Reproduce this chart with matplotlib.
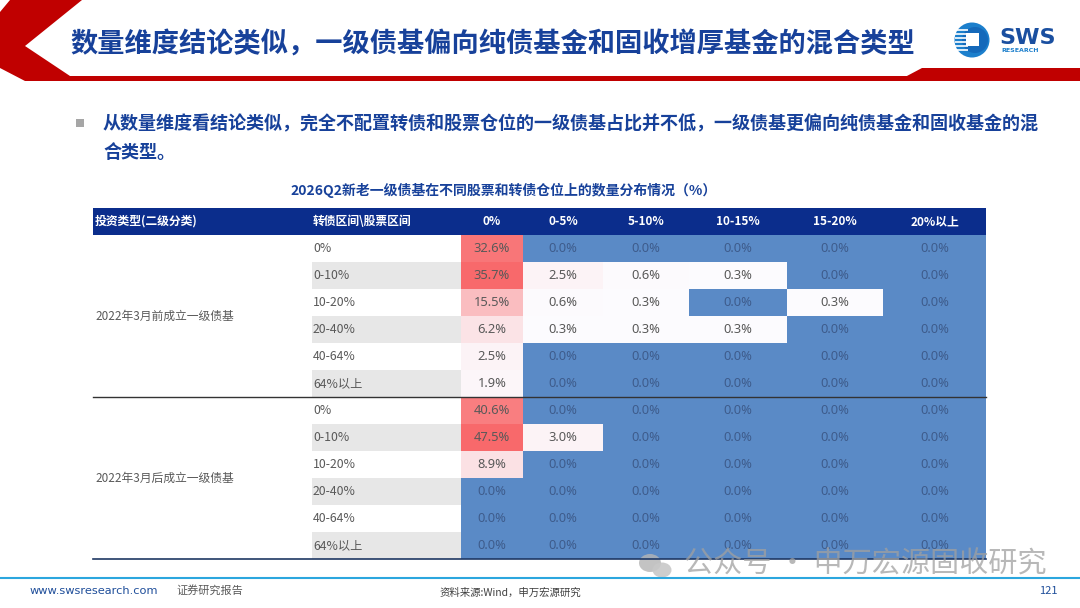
import matplotlib
matplotlib.use("Agg")
import matplotlib.pyplot as plt
import numpy as np
from matplotlib.colors import LinearSegmentedColormap, TwoSlopeNorm
from matplotlib.patches import Rectangle, Polygon, Circle, Ellipse

plt.rcParams['font.family'] = ['Noto Sans CJK SC', 'DejaVu Sans']

# ---------------- data ----------------
title = "数量维度结论类似，一级债基偏向纯债基金和固收增厚基金的混合类型"
bullet_line1 = "从数量维度看结论类似，完全不配置转债和股票仓位的一级债基占比并不低，一级债基更偏向纯债基金和固收基金的混"
bullet_line2 = "合类型。"
table_title = "2026Q2新老一级债基在不同股票和转债仓位上的数量分布情况（%）"
header_col1 = "投资类型(二级分类)"
header_col2 = "转债区间\\股票区间"
stock_bins = ['0%', '0-5%', '5-10%', '10-15%', '15-20%', '20%以上']
cb_bins = ['0%', '0-10%', '10-20%', '20-40%', '40-64%', '64%以上']
groups = ['2022年3月前成立一级债基', '2022年3月后成立一级债基']
old_funds = [
    [32.6, 0.0, 0.0, 0.0, 0.0, 0.0],
    [35.7, 2.5, 0.6, 0.3, 0.0, 0.0],
    [15.5, 0.6, 0.3, 0.0, 0.3, 0.0],
    [6.2, 0.3, 0.3, 0.3, 0.0, 0.0],
    [2.5, 0.0, 0.0, 0.0, 0.0, 0.0],
    [1.9, 0.0, 0.0, 0.0, 0.0, 0.0],
]
new_funds = [
    [40.6, 0.0, 0.0, 0.0, 0.0, 0.0],
    [47.5, 3.0, 0.0, 0.0, 0.0, 0.0],
    [8.9, 0.0, 0.0, 0.0, 0.0, 0.0],
    [0.0, 0.0, 0.0, 0.0, 0.0, 0.0],
    [0.0, 0.0, 0.0, 0.0, 0.0, 0.0],
    [0.0, 0.0, 0.0, 0.0, 0.0, 0.0],
]
footer_url = "www.swsresearch.com"
footer_tag = "证券研究报告"
footer_src = "资料来源:Wind，申万宏源研究"
page_no = "121"
watermark = "公众号 · 申万宏源固收研究"

# ---------------- layout ----------------
W, H = 1080, 608
RED = '#C00000'
NAVY = '#17419A'
HEAD = '#0B2D8C'
GREY_TXT = '#595959'
BLUE_CELL = '#5A8AC6'
NUM_FONT = ['Noto Sans', 'DejaVu Sans']

col_edges = [93, 312, 461, 523, 603, 689, 787, 883, 986]
head_top, head_bot = 208, 235
row_h = 27

fig = plt.figure(figsize=(W / 100, H / 100), dpi=100)
ax = fig.add_axes([0, 0, 1, 1])
ax.set_xlim(0, W)
ax.set_ylim(H, 0)
ax.axis('off')

# ---- top decoration ----
ax.add_patch(Polygon([(10, 0), (82, 0), (25, 46), (70, 76), (25, 81), (0, 68), (0, 12)],
                     closed=True, color=RED, lw=0))
ax.add_patch(Polygon([(25, 76), (1080, 76), (1080, 81), (25, 81)], closed=True, color=RED, lw=0))
ax.add_patch(Polygon([(905, 77), (922, 68), (1080, 68), (1080, 81), (905, 81)], closed=True, color=RED, lw=0))
ax.text(70, 45, title, fontsize=19.6, fontweight='bold', color=NAVY, va='center', ha='left')

# logo
ax.add_patch(Circle((972, 40), 17.5, color='#1C7FCC', lw=0))
ax.add_patch(Circle((975, 40), 13, color='#1569BA', lw=0))
for k in range(6):
    yy = 30 + k * 4
    ax.plot([955, 968], [yy, yy], color='white', lw=1.2, solid_capstyle='butt')
ax.add_patch(Rectangle((966, 33), 13, 13, color='white', lw=0))
ax.text(999, 38, "SWS", fontsize=16, fontweight='bold', color='#1A4FA0', va='center', ha='left',
        family=['DejaVu Sans'])
ax.text(1001, 50, "RESEARCH", fontsize=4.5, fontweight='bold', color='#1C7FCC', va='center', ha='left',
        family=['DejaVu Sans'])

# ---- bullet ----
ax.add_patch(Rectangle((76, 119), 8, 8, color='#A6A6A6', lw=0))
ax.text(103, 124, bullet_line1, fontsize=13.0, fontweight='bold', color=NAVY, va='center', ha='left')
ax.text(103, 152, bullet_line2, fontsize=13.0, fontweight='bold', color=NAVY, va='center', ha='left')

# ---- table title ----
ax.text(504, 190, table_title, fontsize=10, fontweight='bold', color=NAVY, va='center', ha='center')

# ---- table header ----
ax.add_patch(Rectangle((col_edges[0], head_top), col_edges[-1] - col_edges[0], head_bot - head_top,
                       color=HEAD, lw=0))
hy = (head_top + head_bot) / 2
ax.text(col_edges[0] + 2, hy, header_col1, fontsize=8.5, fontweight='bold', color='white', va='center', ha='left')
ax.text(col_edges[1] + 1, hy, header_col2, fontsize=8.5, fontweight='bold', color='white', va='center', ha='left')
for j, lab in enumerate(stock_bins):
    cx = (col_edges[2 + j] + col_edges[3 + j]) / 2
    ax.text(cx, hy, lab, fontsize=8.5, fontweight='bold', color='white', va='center', ha='center')

# ---- body ----
cmap = LinearSegmentedColormap.from_list('excel3', [BLUE_CELL, '#FCFCFF', '#F8696B'])
x_edges = np.array(col_edges[2:], dtype=float)
for g, (gname, vals) in enumerate(zip(groups, [old_funds, new_funds])):
    arr = np.array(vals)
    top = head_bot + g * 6 * row_h
    y_edges = top + np.arange(7) * row_h
    for i, lab in enumerate(cb_bins):
        y0 = top + i * row_h
        if i % 2 == 1:
            ax.add_patch(Rectangle((col_edges[1], y0), col_edges[2] - col_edges[1], row_h,
                                   color='#E7E7E7', lw=0))
        ax.text(col_edges[1] + 1, y0 + row_h / 2, lab, fontsize=8.8, color=GREY_TXT, va='center', ha='left')
    norm = TwoSlopeNorm(vmin=0.0, vcenter=0.3, vmax=arr.max())
    ax.pcolormesh(x_edges, y_edges, arr, cmap=cmap, norm=norm, shading='flat', lw=0, antialiased=False)
    for i in range(6):
        for j in range(6):
            v = arr[i, j]
            cx = (x_edges[j] + x_edges[j + 1]) / 2
            cy = top + i * row_h + row_h / 2
            tc = '#3E5C8C' if v == 0 else GREY_TXT
            ax.text(cx, cy, f"{v:.1f}%", fontsize=9.3, color=tc, va='center', ha='center', family=NUM_FONT)
    ax.text(col_edges[0] + 2, top + 3 * row_h, gname, fontsize=8.5, color=GREY_TXT, va='center', ha='left')

ax.plot([col_edges[0], col_edges[-1]], [head_bot + 6 * row_h] * 2, color='#333333', lw=1.0)
ax.plot([col_edges[0], col_edges[-1]], [head_bot + 12 * row_h] * 2, color='#1F3864', lw=1.2)

# ---- watermark ----
ax.add_patch(Ellipse((650, 563), 22, 18, color='#B5B5B5', alpha=0.8, lw=0))
ax.add_patch(Ellipse((662, 570), 19, 15, color='#C8C8C8', alpha=0.9, lw=0))
ax.text(684, 565, watermark, fontsize=21, color='#A0A0A0', alpha=0.75, va='center', ha='left')

# ---- footer ----
ax.plot([0, W], [578, 578], color='#2BA6DE', lw=1.5)
ax.text(30, 591, footer_url, fontsize=8.2, color='#1F4E9A', va='center', ha='left', family=['DejaVu Sans'])
ax.text(176, 590, footer_tag, fontsize=8, color='#595959', va='center', ha='left')
ax.text(440, 593, footer_src, fontsize=7.5, color='#404040', va='center', ha='left')
ax.text(1058, 591, page_no, fontsize=8, color='#1F4E9A', va='center', ha='right')

fig.savefig('out.png', dpi=100)
